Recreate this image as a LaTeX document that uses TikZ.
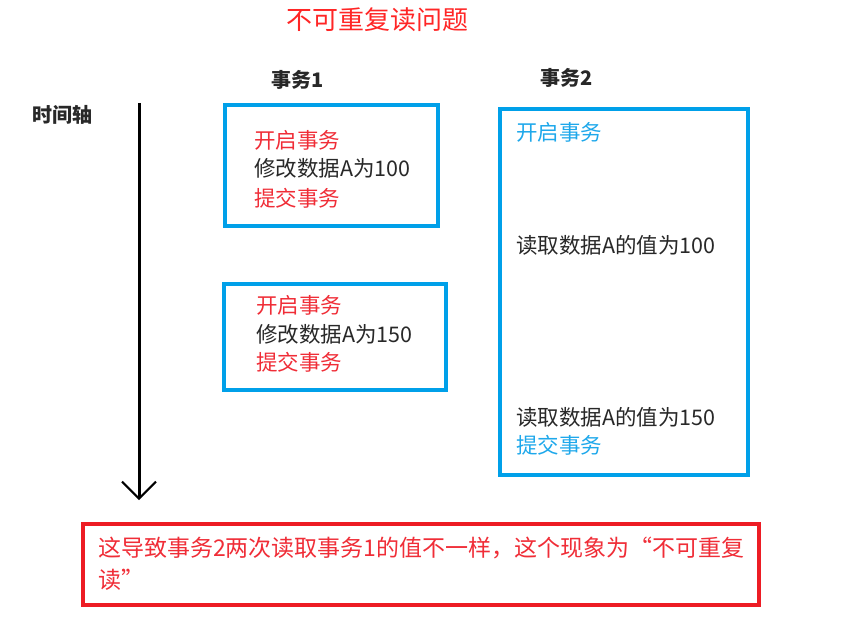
\documentclass[tikz,border=0pt]{standalone}
\usepackage{fontspec}
\setmainfont{Noto Sans CJK SC}
\usetikzlibrary{arrows.meta}
\definecolor{boxblue}{RGB}{0,160,233}
\definecolor{txtblue}{RGB}{30,168,235}
\definecolor{txtred}{RGB}{240,45,55}
\definecolor{boxred}{RGB}{237,28,36}
\definecolor{txtdark}{RGB}{40,40,40}
\tikzset{
  bluebox/.style={draw=boxblue, line width=4pt, rectangle, inner sep=0pt},
  redbox/.style={draw=boxred, line width=4pt, rectangle, inner sep=0pt},
  line/.style={anchor=west, inner sep=0pt, font=\fontsize{21.5}{25}\selectfont},
  redline/.style={line, text=txtred},
  blueline/.style={line, text=txtblue},
  darkline/.style={line, text=txtdark},
  heading/.style={inner sep=0pt, font=\fontsize{20}{24}\selectfont\bfseries, text=txtdark},
}
\begin{document}
\begin{tikzpicture}[x=1pt,y=-1pt]
\useasboundingbox[fill=white] (0,0) rectangle (868,626);
% title
\node[inner sep=0pt, font=\fontsize{26}{30}\selectfont, text=red!85!white] (title) at (377,20) {不可重复读问题};
% headings
\node[heading] (h1) at (298,80) {事务1};
\node[heading] (h2) at (567,78) {事务2};
\node[heading, anchor=west] (axis) at (32,115) {时间轴};
% time axis
\coordinate (ta) at (139,103);
\coordinate (tb) at (139,500);
\draw[line width=3pt, -{Straight Barb[length=17pt,width=34pt,line width=2pt]}] (ta) -- (tb);
% transaction 1, first box
\node[bluebox, minimum width=213pt, minimum height=121pt] (b1) at (331.5,165.5) {};
\node[redline] (b1a) at (254,140) {开启事务};
\node[darkline] (b1b) at (254,168) {修改数据A为100};
\node[redline] (b1c) at (254,198) {提交事务};
% transaction 1, second box
\node[bluebox, minimum width=222pt, minimum height=106pt] (b2) at (335,337) {};
\node[redline] (b2a) at (256,305) {开启事务};
\node[darkline] (b2b) at (256,334) {修改数据A为150};
\node[redline] (b2c) at (256,362) {提交事务};
% transaction 2
\node[bluebox, minimum width=248pt, minimum height=366pt] (b3) at (624,292) {};
\node[blueline] (b3a) at (516,132) {开启事务};
\node[darkline] (b3b) at (516,245) {读取数据A的值为100};
\node[darkline] (b3c) at (516,417) {读取数据A的值为150};
\node[blueline] (b3d) at (516,445) {提交事务};
% conclusion
\node[redbox, minimum width=676pt, minimum height=81pt] (r) at (421,564.5) {};
\node[redline, font=\fontsize{23}{27}\selectfont] (r1) at (98,548) {这导致事务2两次读取事务1的值不一样，这个现象为“不可重复};
\node[redline, font=\fontsize{23}{27}\selectfont] (r2) at (98,580) {读”};
\end{tikzpicture}
\end{document}
